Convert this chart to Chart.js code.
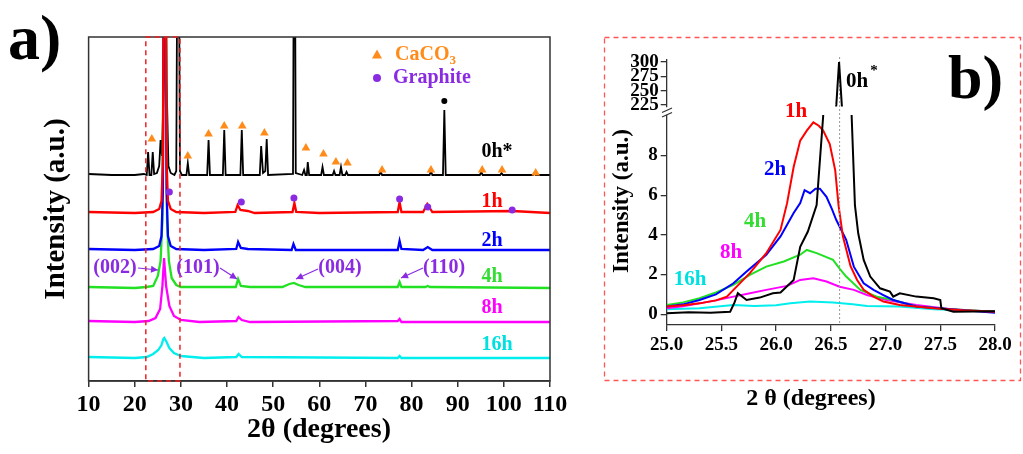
<!DOCTYPE html>
<html><head><meta charset="utf-8">
<script src="https://cdn.jsdelivr.net/npm/chart.js@4/dist/chart.umd.min.js"></script>
<style>
html,body{margin:0;padding:0;background:#fff;}
#wrap{position:relative;width:1023px;height:454px;background:#fff;overflow:hidden;}
canvas{position:absolute;}
</style></head><body>
<div id="wrap">
<canvas id="ca" width="600" height="454" style="left:0;top:0;width:600px;height:454px"></canvas>
<canvas id="cbl" width="423" height="454" style="left:600px;top:0;width:423px;height:454px"></canvas>
<canvas id="cbu" width="423" height="120" style="left:600px;top:0;width:423px;height:120px"></canvas>
</div>
<script>
// ---------- Panel a data: [2theta, offset intensity] ----------
const a0h = [[10,207],[15,206],[20,206],[22,207],[22.6,206],[22.9,229],[23.2,206],[23.6,206],[23.9,229],[24.2,207],[24.8,208],[25.3,215],[25.6,241],[25.9,225],[26.3,300],[26.6,600],[26.9,300],[27.3,215],[27.8,208],[28.6,206],[29.0,210],[29.4,600],[29.8,210],[30.2,206],[31.2,206],[31.5,218],[31.8,206],[35.7,206],[36.0,241],[36.3,206],[39.1,206],[39.4,251],[39.7,206],[42.9,206],[43.2,251],[43.5,206],[47.1,206],[47.4,235],[47.8,208],[48.3,210],[48.6,242],[48.9,206],[54.3,207],[54.6,600],[54.9,208],[56.3,206],[56.7,211],[57.0,206],[57.3,206],[57.5,219],[57.8,206],[60.4,206],[60.7,214],[61.0,206],[62.9,206],[63.2,210],[63.5,206],[64.4,206],[64.7,214],[65.0,206],[65.6,206],[65.9,209],[66.2,206],[73.0,206],[73.3,209],[73.6,206],[83.9,206],[84.2,210],[84.5,206],[86.8,206],[87.1,271],[87.4,206],[94.8,206],[95.1,209],[95.4,206],[99.2,206],[99.5,208],[99.8,206],[106.3,206],[106.6,208],[106.9,206],[110,206]];
const a1h = [[10,169],[20,168],[24,169],[25.3,172],[25.8,180],[26.1,220],[26.5,600],[26.9,220],[27.2,180],[27.8,172],[29,169],[35,168],[41.8,169],[42.3,176],[42.9,171],[44.5,170],[46,168],[54.2,169],[54.6,178],[55.0,169],[60,168],[77.0,169],[77.4,179],[77.8,169],[82.5,169],[83.4,177],[84.5,169],[101.8,170],[110,168]];
const a2h = [[10,132],[20,131],[24,132],[25.3,135],[25.8,145],[26.1,190],[26.5,600],[26.9,190],[27.2,145],[27.8,135],[29,132],[35,131],[42.0,132],[42.4,139],[43.0,133],[44.5,132],[54.0,131],[54.4,137],[54.9,131],[77.0,131],[77.4,140],[77.8,132],[82.5,131],[83.5,134],[84.5,131],[110,131]];
const a4h = [[10,94],[20,93],[22.5,94],[24,95],[25.0,105],[25.6,120],[26.0,160],[26.5,600],[27.0,160],[27.4,120],[28,103],[29,96],[30,94],[41.9,94],[42.4,102],[43.0,95],[45,94],[52,94],[53.5,97],[54.5,98],[55.5,96],[57,94],[77.0,94],[77.4,99],[77.8,94],[83,94],[83.5,95],[84,94],[110,93]];
const a8h = [[10,60],[20,59],[23,60],[24.5,63],[25.5,72],[26.0,95],[26.35,123],[26.8,95],[27.5,75],[28.5,65],[30,61],[34,59],[42.0,60],[42.5,64],[43.2,61],[45,59],[77.0,60],[77.4,62],[77.8,59],[110,59]];
const a16h = [[10,24],[20,23],[22.6,24],[24.0,27],[25.1,31],[25.8,36],[26.2,42],[26.4,43],[26.8,40],[27.5,33],[28.5,28],[30,25],[35,23],[42.0,24],[42.5,27],[43.2,24],[77.0,23],[77.4,25],[77.8,23],[110,23]];
const caco3Marks = [[23.7,242],[31.5,225],[36.0,247],[39.4,255],[43.3,255],[48.1,248],[57.1,233],[60.9,227],[63.6,219],[66.1,218],[73.6,211],[84.2,211],[95.3,211],[99.6,211],[106.9,208]];
const graphiteMarks = [[27.5,189],[43.1,179],[54.5,183],[77.4,182],[83.5,174],[101.8,171]];
const unknownMarks = [[87.1,280]];
const zoomBox = [22.4, 29.8];
const xTicksA = [10,20,30,40,50,60,70,80,90,100,110];

// ---------- Panel b data: [2theta, intensity] ----------
const b0h = [[25.0,0.05],[25.2,0.1],[25.4,0.08],[25.58,0.13],[25.62,0.6],[25.65,1.06],[25.73,0.72],[25.85,0.84],[25.97,1.06],[26.04,1.1],[26.16,1.73],[26.22,3.4],[26.29,4.17],[26.37,5.5],[26.43,10],[26.55,225],[26.575,300],[26.60,225],[26.69,10],[26.72,5.5],[26.75,4.08],[26.80,2.74],[26.86,1.9],[26.95,1.31],[27.04,1.14],[27.07,0.89],[27.13,1.06],[27.28,0.89],[27.44,0.81],[27.50,0.72],[27.51,0.3],[27.62,0.13],[28.0,0.15]];
const b1h = [[25.0,0.39],[25.15,0.45],[25.3,0.55],[25.45,0.7],[25.55,0.89],[25.61,1.23],[25.76,2.07],[25.91,3.08],[26.04,4.25],[26.10,5.6],[26.16,7.42],[26.22,8.75],[26.28,9.25],[26.34,9.67],[26.39,9.5],[26.43,9.25],[26.49,8.58],[26.54,7.25],[26.57,5.5],[26.61,3.93],[26.68,2.42],[26.74,1.73],[26.80,1.23],[26.89,0.89],[26.98,0.64],[27.13,0.47],[27.44,0.3],[27.7,0.2],[28.0,0.13]];
const b2h = [[25.0,0.39],[25.15,0.5],[25.3,0.72],[25.45,1.0],[25.61,1.56],[25.73,2.15],[25.91,3.0],[26.04,3.92],[26.16,5.1],[26.22,5.6],[26.26,6.25],[26.31,6.1],[26.36,6.33],[26.40,6.33],[26.46,5.92],[26.51,5.3],[26.55,4.75],[26.64,3.75],[26.71,2.4],[26.80,1.56],[26.89,1.23],[26.98,0.97],[27.07,0.72],[27.28,0.39],[27.6,0.25],[28.0,0.08]];
const b4h = [[25.0,0.47],[25.15,0.6],[25.3,0.81],[25.45,1.1],[25.61,1.48],[25.76,1.98],[25.91,2.4],[26.07,2.66],[26.22,3.0],[26.28,3.24],[26.37,3.08],[26.52,2.74],[26.58,2.3],[26.64,1.9],[26.77,1.23],[26.92,0.89],[27.07,0.72],[27.28,0.39],[27.6,0.25],[28.0,0.13]];
const b8h = [[25.0,0.3],[25.15,0.4],[25.3,0.55],[25.45,0.7],[25.61,0.89],[25.75,1.05],[25.91,1.23],[26.10,1.43],[26.22,1.73],[26.34,1.82],[26.46,1.65],[26.58,1.39],[26.71,1.23],[26.83,0.97],[27.01,0.72],[27.28,0.47],[27.6,0.25],[28.0,0.13]];
const b16h = [[25.0,0.25],[25.3,0.3],[25.61,0.47],[25.8,0.42],[26.0,0.45],[26.13,0.55],[26.31,0.64],[26.52,0.59],[26.7,0.5],[26.83,0.42],[27.13,0.39],[27.44,0.25],[27.7,0.2],[28.0,0.13]];
const yTicksBLow = [0,2,4,6,8];
const yTicksBUp = [225,250,275,300];
const xTicksB = [25.0,25.5,26.0,26.5,27.0,27.5,28.0];
const refLineB = 26.58;

// ---------- helpers ----------
const FF = '"Liberation Serif", "Times New Roman", serif';
Chart.defaults.font.family = FF;
const pts = arr => arr.map(([x,y]) => ({x, y}));
const C = {k:'#000000', r:'#ff0000', b:'#0000ff', g:'#22e022', m:'#ff00ff', c:'#00eeee', o:'#ff8c1a', p:'#8a2be2'};
function txt(ctx, s, x, y, size, color, align, base) {
  ctx.save();
  ctx.font = 'bold ' + size + 'px ' + FF;
  ctx.fillStyle = color; ctx.textAlign = align || 'center'; ctx.textBaseline = base || 'middle';
  ctx.fillText(s, x, y);
  ctx.restore();
}
function vtxt(ctx, s, x, y, size) {
  ctx.save(); ctx.translate(x, y); ctx.rotate(-Math.PI/2);
  txt(ctx, s, 0, 0, size, '#000');
  ctx.restore();
}
function arrow(ctx, x1, y1, x2, y2, color) {
  ctx.save(); ctx.strokeStyle = color; ctx.fillStyle = color; ctx.lineWidth = 1.2;
  ctx.beginPath(); ctx.moveTo(x1, y1); ctx.lineTo(x2, y2); ctx.stroke();
  const a = Math.atan2(y2 - y1, x2 - x1), L = 7, W = 3.5;
  ctx.beginPath(); ctx.moveTo(x2, y2);
  ctx.lineTo(x2 - L*Math.cos(a) + W*Math.sin(a), y2 - L*Math.sin(a) - W*Math.cos(a));
  ctx.lineTo(x2 - L*Math.cos(a) - W*Math.sin(a), y2 - L*Math.sin(a) + W*Math.cos(a));
  ctx.closePath(); ctx.fill(); ctx.restore();
}
const lineDS = (data, color, w, order) => ({data: pts(data), borderColor: color, backgroundColor: color, borderWidth: w, pointRadius: 0, tension: 0, fill: false, order: order || 0});
const fixedTicks = vals => (s => { s.ticks = vals.map(v => ({value: v})); });

// ---------- Panel a ----------
const decorA = {
  id: 'decorA',
  afterDraw(chart) {
    const ctx = chart.ctx, ca = chart.chartArea, xs = chart.scales.x;
    ctx.save();
    ctx.strokeStyle = '#333'; ctx.lineWidth = 1.5;
    ctx.strokeRect(ca.left, ca.top, ca.right - ca.left, ca.bottom - ca.top);
    ctx.strokeStyle = '#ee2222'; ctx.lineWidth = 1.5; ctx.setLineDash([5, 4]);
    const x1 = xs.getPixelForValue(zoomBox[0]), x2 = xs.getPixelForValue(zoomBox[1]);
    ctx.strokeRect(x1, ca.top, x2 - x1, ca.bottom - ca.top);
    ctx.restore();
    txt(ctx, 'a)', 8, 42, 64, '#000', 'left');
    vtxt(ctx, 'Intensity (a.u.)', 57, 209, 29);
    txt(ctx, '2θ (degrees)', 319, 430, 28, '#000');
    // legend
    ctx.save(); ctx.fillStyle = C.o; ctx.beginPath();
    ctx.moveTo(377, 49.5); ctx.lineTo(382, 58.5); ctx.lineTo(372, 58.5); ctx.closePath(); ctx.fill();
    ctx.fillStyle = C.p; ctx.beginPath(); ctx.arc(377, 78, 4, 0, Math.PI*2); ctx.fill(); ctx.restore();
    txt(ctx, 'CaCO', 395, 55, 20, C.o, 'left');
    ctx.save(); ctx.font = 'bold 20px ' + FF; const w = ctx.measureText('CaCO').width; ctx.restore();
    txt(ctx, '3', 395 + w, 61, 13, C.o, 'left');
    txt(ctx, 'Graphite', 393, 78, 20, C.p, 'left');
    // series labels
    txt(ctx, '0h*', 497, 152, 20, C.k);
    txt(ctx, '1h', 492, 202, 20, C.r);
    txt(ctx, '2h', 492, 241, 20, C.b);
    txt(ctx, '4h', 492, 277, 20, '#33dd33');
    txt(ctx, '8h', 492, 308, 20, C.m);
    txt(ctx, '16h', 497, 345, 20, '#00e0e0');
    // reflections
    txt(ctx, '(002)', 115, 268, 20, C.p);
    txt(ctx, '(101)', 198, 268, 20, C.p);
    txt(ctx, '(004)', 340, 268, 20, C.p);
    txt(ctx, '(110)', 444, 268, 20, C.p);
    arrow(ctx, 138, 268, 158, 270, C.p);
    arrow(ctx, 220, 268, 237, 279, C.p);
    arrow(ctx, 318, 269, 296, 279, C.p);
    arrow(ctx, 423, 268, 401, 278, C.p);
  }
};
new Chart(document.getElementById('ca'), {
  type: 'line',
  data: { datasets: [
    {type:'scatter', data: pts(caco3Marks), pointStyle:'triangle', pointRadius:5, backgroundColor:C.o, borderColor:C.o, borderWidth:0, showLine:false, order:-1},
    {type:'scatter', data: pts(graphiteMarks), pointStyle:'circle', pointRadius:3.5, backgroundColor:C.p, borderColor:C.p, borderWidth:0, showLine:false, order:-1},
    {type:'scatter', data: pts(unknownMarks), pointStyle:'circle', pointRadius:3, backgroundColor:'#000', borderColor:'#000', borderWidth:0, showLine:false, order:-1},
    lineDS(a0h, C.k, 1.8, 1), lineDS(a1h, C.r, 2.3), lineDS(a2h, C.b, 2.3),
    lineDS(a4h, C.g, 2.3), lineDS(a8h, C.m, 2.3), lineDS(a16h, C.c, 2.3)
  ]},
  options: {
    responsive: false, animation: false, events: [],
    layout: {padding: {left: 88.6, top: 37, right: 50, bottom: 0}},
    plugins: {legend: {display: false}, tooltip: {enabled: false}},
    scales: {
      x: {type: 'linear', min: 10, max: 110, afterBuildTicks: fixedTicks(xTicksA),
          ticks: {font: {size: 24, weight: 'bold'}, color: '#000', padding: 3, maxRotation: 0, autoSkip: false},
          grid: {drawOnChartArea: false, tickLength: 6, color: '#333', lineWidth: 1.5},
          border: {color: '#333', width: 1.5}, afterFit(s) { s.height = 73; }},
      y: {display: false, min: 0, max: 344}
    }
  },
  plugins: [decorA]
});

// ---------- Panel b lower ----------
const decorB = {
  id: 'decorB',
  afterDraw(chart) {
    const ctx = chart.ctx, xs = chart.scales.x;
    ctx.save();
    ctx.strokeStyle = '#ff5555'; ctx.lineWidth = 1.3; ctx.setLineDash([5, 4]);
    ctx.strokeRect(4.5, 37.5, 416, 343);
    ctx.setLineDash([2, 2]); ctx.strokeStyle = '#999'; ctx.lineWidth = 1;
    const xr = xs.getPixelForValue(refLineB);
    ctx.beginPath(); ctx.moveTo(xr, 57); ctx.lineTo(xr, chart.chartArea.bottom); ctx.stroke();
    ctx.setLineDash([]);
    // break marks
    ctx.fillStyle = '#fff'; ctx.fillRect(62, 110.9, 10, 4.1);
    ctx.strokeStyle = '#333'; ctx.lineWidth = 1.3;
    ctx.beginPath(); ctx.moveTo(62, 112.5); ctx.lineTo(72, 108); ctx.stroke();
    ctx.beginPath(); ctx.moveTo(62, 117); ctx.lineTo(72, 112.5); ctx.stroke();
    ctx.restore();
    txt(ctx, 'b)', 348, 82, 62, '#000', 'left');
    vtxt(ctx, 'Intensity (a.u.)', 22, 201, 23);
    txt(ctx, '2 θ (degrees)', 211, 399, 24, '#000');
    txt(ctx, '0h', 257, 82, 21, C.k);
    txt(ctx, '*', 274, 71, 15, C.k);
    txt(ctx, '1h', 196, 112, 21, C.r);
    txt(ctx, '2h', 175, 170, 21, C.b);
    txt(ctx, '4h', 155, 222, 21, '#33dd33');
    txt(ctx, '8h', 131, 253, 21, C.m);
    txt(ctx, '16h', 90, 280, 21, '#00e0e0');
  }
};
new Chart(document.getElementById('cbl'), {
  type: 'line',
  data: { datasets: [
    lineDS(b0h, C.k, 2), lineDS(b1h, C.r, 2), lineDS(b2h, C.b, 2),
    lineDS(b4h, C.g, 2), lineDS(b8h, C.m, 2), lineDS(b16h, C.c, 2)
  ]},
  options: {
    responsive: false, animation: false, events: [],
    layout: {padding: {left: 0, top: 115, right: 28, bottom: 0}},
    plugins: {legend: {display: false}, tooltip: {enabled: false}},
    scales: {
      x: {type: 'linear', min: 25, max: 28, afterBuildTicks: fixedTicks(xTicksB),
          ticks: {font: {size: 19, weight: 'bold'}, color: '#000', padding: 3, maxRotation: 0, autoSkip: false,
                  callback: v => Number(v).toFixed(1)},
          grid: {drawOnChartArea: false, tickLength: 6, color: '#333', lineWidth: 1.3},
          border: {color: '#333', width: 1.3}, afterFit(s) { s.height = 129; }},
      y: {type: 'linear', min: -0.54, max: 10.04, afterBuildTicks: fixedTicks(yTicksBLow),
          ticks: {font: {size: 19, weight: 'bold'}, color: '#000', padding: 3, autoSkip: false},
          grid: {drawOnChartArea: false, tickLength: 6, color: '#333', lineWidth: 1.3},
          border: {color: '#333', width: 1.3}, afterFit(s) { s.width = 66.7; }}
    }
  },
  plugins: [decorB]
});

// ---------- Panel b upper (broken axis) ----------
new Chart(document.getElementById('cbu'), {
  type: 'line',
  data: { datasets: [ lineDS(b0h, C.k, 2) ]},
  options: {
    responsive: false, animation: false, events: [],
    layout: {padding: {left: 0, top: 59.8, right: 28, bottom: 9.1}},
    plugins: {legend: {display: false}, tooltip: {enabled: false}},
    scales: {
      x: {type: 'linear', min: 25, max: 28, display: false},
      y: {type: 'linear', min: 222, max: 304, afterBuildTicks: fixedTicks(yTicksBUp),
          ticks: {font: {size: 19, weight: 'bold'}, color: '#000', padding: 2, autoSkip: false},
          grid: {drawOnChartArea: false, tickLength: 6, color: '#333', lineWidth: 1.3},
          border: {color: '#333', width: 1.3}, afterFit(s) { s.width = 66.7; }}
    }
  }
});
</script>
</body></html>
